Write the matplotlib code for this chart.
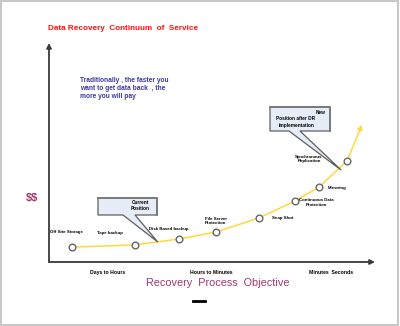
import matplotlib.pyplot as plt
from matplotlib.patches import Polygon, Rectangle
from matplotlib.lines import Line2D

plt.rcParams['font.family'] = ['Liberation Sans', 'DejaVu Sans']

# stages along the continuum (speed of recovery vs cost)
stages = ['Off Site Storage', 'Tape backup', 'Disk Based backup', 'File Server\nProtection',
          'Snap Shot', 'Continuous Data\nProtection', 'Mirroring', 'Synchronous\nReplication']
speed = [0.71, 2.64, 3.99, 5.12, 6.44, 7.55, 8.28, 9.14]
cost = [0.68, 0.78, 1.05, 1.37, 2.01, 2.79, 3.42, 4.61]
curve_end = (9.60, 6.26)

tick_labels = ['Days to Hours', 'Hours to Minutes', 'Minutes  Seconds']
tick_pos = [1.81, 4.97, 8.65]

current_pos = (3.34, 0.91)
new_pos = (8.96, 4.20)

W, H = 400, 326
fig = plt.figure(figsize=(4, 3.26), dpi=100)


def P(x, y):
    # pixel (y down) -> figure fraction
    return (x / W, 1 - y / H)


ax = fig.add_axes([49 / W, 1 - 262 / H, (375 - 49) / W, (262 - 43) / H])
ax.set_xlim(0, 10)
ax.set_ylim(0, 10)
for s in ax.spines.values():
    s.set_visible(False)
ax.set_yticks([])
ax.set_xticks(tick_pos, tick_labels, fontsize=3.7, fontweight='bold')
ax.tick_params(axis='x', length=0, pad=6)

# axes with arrows
arrow = dict(arrowstyle='-|>', color='#3a3a3a', lw=1.3, mutation_scale=7, shrinkA=0, shrinkB=0)
ax.annotate('', xy=(0, 1), xytext=(0, 0), xycoords='axes fraction', arrowprops=arrow)
ax.annotate('', xy=(1, 0), xytext=(0, 0), xycoords='axes fraction', arrowprops=arrow)

# curve
yellow = '#FFD83A'
ax.plot(speed, cost, color=yellow, lw=1.1, zorder=2)
ax.annotate('', xy=curve_end, xytext=(speed[-1], cost[-1]),
            arrowprops=dict(arrowstyle='-|>', color=yellow, lw=1.1, mutation_scale=7,
                            shrinkA=0, shrinkB=0), zorder=2)
ax.plot(speed, cost, 'o', ms=4.8, mfc='white', mec='#666666', mew=1.0, zorder=3)

# stage labels: (dx, dy) in pixels, ha
offsets = [(-6, 15, 'center'), (-25, 12, 'center'), (-10, 10, 'center'), (0, 11, 'center'),
           (13, 0, 'left'), (21, -2, 'center'), (9, -1, 'left'), (-38, 2, 'center')]
for name, x, y, (dx, dy, ha) in zip(stages, speed, cost, offsets):
    ax.annotate(name, (x, y), xytext=(dx, dy), textcoords='offset pixels',
                ha=ha, va='center', fontsize=3.2, fontweight='bold', linespacing=1.3)

# texts
fig.text(*P(48, 28), 'Data Recovery  Continuum  of  Service', color='#FF1010',
         fontsize=5.85, fontweight='bold', va='center', ha='left')
fig.text(*P(80, 89), 'Traditionally , the faster you\nwant to get data back  , the\nmore you will pay',
         color='#3A3A9E', fontsize=4.8, fontweight='bold', va='center', ha='left', linespacing=1.2)
fig.text(*P(32, 198), r'\$\$', color='#A3366E', fontsize=8, fontweight='bold', va='center', ha='center')
fig.text(*P(218, 283), 'Recovery  Process  Objective', color='#A3366E', fontsize=7.8,
         va='center', ha='center')
fig.add_artist(Line2D([193 / W, 205 / W], [1 - 301 / H] * 2, color='black', lw=2))


def callout(box, base, target, lines):
    x0, y0, x1, y1 = box
    tip = fig.transFigure.inverted().transform(ax.transData.transform(target))
    tipx, tipy = tip[0] * W, (1 - tip[1]) * H
    pts = [(x0, y0), (x1, y0), (x1, y1), (base[1], y1), (tipx, tipy), (base[0], y1), (x0, y1)]
    fig.add_artist(Polygon([P(*p) for p in pts], closed=True, facecolor='#E6EDF8',
                           edgecolor='#5E5E5E', lw=0.9, transform=fig.transFigure, zorder=5))
    # darker top/right edge like the original shape shadow
    fig.add_artist(Line2D([x0 / W, x1 / W, x1 / W], [1 - y0 / H, 1 - y0 / H, 1 - y1 / H],
                          color='#7A7A7A', lw=1.4, zorder=5))
    for txt, (tx, ty, ha) in lines:
        fig.text(*P(tx, ty), txt, fontsize=3.4, fontweight='bold', ha=ha, va='center', zorder=6)


callout((98, 198, 157, 215), (123, 135), current_pos,
        [('Current', (140, 202, 'center')), ('Position', (140, 209, 'center'))])
callout((270, 107, 330, 131), (289, 300), new_pos,
        [('New', (325, 112, 'right')), ('Position after DR', (296, 119, 'center')),
         ('implementation', (297, 125, 'center'))])

# outer border
fig.add_artist(Rectangle((0.002, 0.003), 0.993, 0.993, transform=fig.transFigure,
                         fill=False, edgecolor='#C8C8C8', lw=1.5))

fig.savefig('out.png', dpi=100)
